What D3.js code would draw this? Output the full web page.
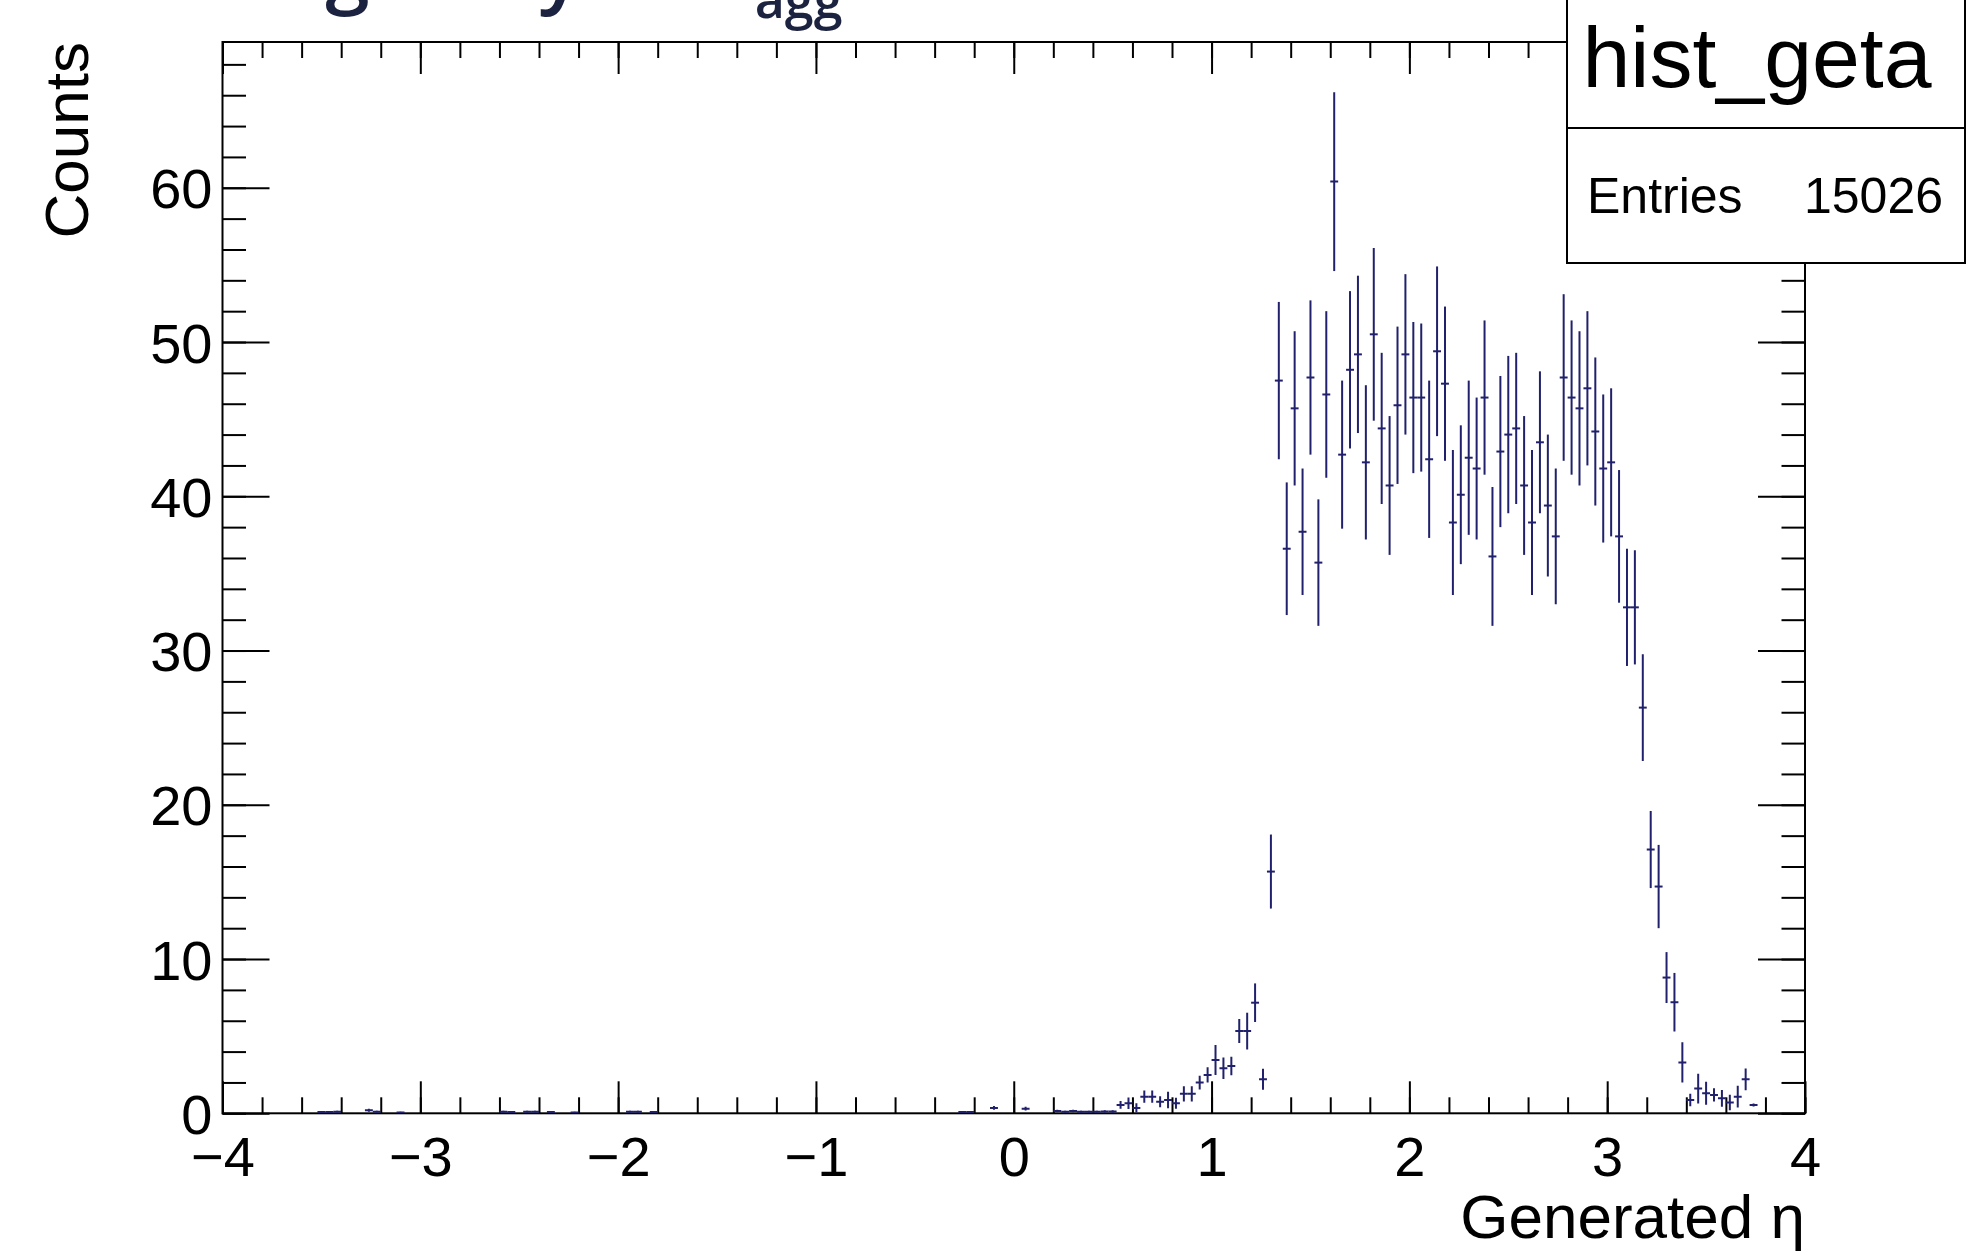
<!DOCTYPE html>
<html>
<head>
<meta charset="utf-8">
<script src="https://cdn.jsdelivr.net/npm/d3@7"></script>
<style>
  html, body { margin: 0; padding: 0; background: #ffffff; }
  svg { display: block; }
</style>
</head>
<body>
<svg id="chart" width="1976" height="1260"></svg>
<script>
// Bin centres (eta) of the non-empty bins; bin width 0.04 over [-4, 4]
const etaCenters = [
  -3.50, -3.46, -3.42, -3.26, -3.22, -3.10,
  -2.58, -2.54, -2.46, -2.42, -2.34, -2.22,
  -1.94, -1.90, -1.82,
  -0.26, -0.22, -0.10, 0.06,
  0.22, 0.26, 0.30, 0.34, 0.38, 0.42, 0.46, 0.50,
  0.54, 0.58, 0.62, 0.66, 0.70, 0.74, 0.78, 0.82, 0.86, 0.90, 0.94, 0.98,
  1.02, 1.06, 1.10, 1.14, 1.18, 1.22, 1.26, 1.30,
  1.34, 1.38, 1.42, 1.46, 1.50, 1.54, 1.58, 1.62, 1.66, 1.70,
  1.74, 1.78, 1.82, 1.86, 1.90, 1.94, 1.98, 2.02, 2.06, 2.10,
  2.14, 2.18, 2.22, 2.26, 2.30, 2.34, 2.38, 2.42, 2.46, 2.50,
  2.54, 2.58, 2.62, 2.66, 2.70, 2.74, 2.78, 2.82, 2.86, 2.90,
  2.94, 2.98, 3.02, 3.06, 3.10, 3.14, 3.18, 3.22, 3.26, 3.30,
  3.34, 3.38, 3.42, 3.46, 3.50, 3.54, 3.58, 3.62, 3.66, 3.70, 3.74
];

// Bin contents (weighted counts)
const counts = [
  0.08, 0.08, 0.10, 0.20, 0.10, 0.05,
  0.10, 0.08, 0.10, 0.10, 0.08, 0.05,
  0.10, 0.10, 0.08,
  0.08, 0.08, 0.35, 0.30,
  0.15, 0.10, 0.15, 0.10, 0.10, 0.10, 0.12, 0.12,
  0.54, 0.65, 0.35, 1.08, 1.08, 0.75, 0.86, 0.65, 1.26, 1.26, 1.99, 2.49,
  3.46, 2.92, 3.07, 5.33, 5.33, 7.17, 2.20, 15.67,
  47.5, 36.6, 45.7, 37.7, 47.7, 35.7, 46.6, 60.4, 42.7, 48.2,
  49.2, 42.2, 50.5, 44.4, 40.7, 45.9, 49.2, 46.4, 46.4, 42.4,
  49.4, 47.3, 38.3, 40.1, 42.5, 41.8, 46.4, 36.1, 42.9, 44.0,
  44.4, 40.7, 38.3, 43.5, 39.4, 37.4, 47.7, 46.4, 45.7, 47.0,
  44.2, 41.8, 42.2, 37.4, 32.8, 32.8, 26.3, 17.1, 14.7, 8.8,
  7.2, 3.3, 0.86, 1.6, 1.3, 1.19, 0.97, 0.70, 1.08, 2.2, 0.54
];

// Bin errors (sqrt of summed squared weights)
const errors = [
  0.06, 0.06, 0.07, 0.10, 0.07, 0.05,
  0.07, 0.06, 0.07, 0.07, 0.06, 0.05,
  0.07, 0.07, 0.06,
  0.06, 0.06, 0.12, 0.12,
  0.08, 0.07, 0.08, 0.07, 0.07, 0.07, 0.08, 0.08,
  0.25, 0.37, 0.30, 0.40, 0.40, 0.35, 0.54, 0.35, 0.50, 0.50, 0.45, 0.50,
  0.97, 0.70, 0.60, 0.78, 1.19, 1.25, 0.68, 2.40,
  5.1, 4.3, 5.0, 4.1, 5.0, 4.1, 5.4, 5.8, 4.8, 5.1,
  5.1, 5.0, 5.6, 4.9, 4.5, 5.1, 5.2, 4.9, 4.8, 5.1,
  5.5, 5.0, 4.7, 4.5, 5.0, 4.6, 5.0, 4.5, 4.9, 5.1,
  4.9, 4.5, 4.7, 4.6, 4.6, 4.4, 5.4, 5.0, 5.0, 5.0,
  4.8, 4.8, 4.8, 4.3, 3.8, 3.7, 3.46, 2.5, 2.7, 1.65,
  1.9, 1.3, 0.40, 0.97, 0.75, 0.43, 0.54, 0.50, 0.70, 0.70, 0.10
];

const binWidth = 0.04;
const xMajorTicks = [-4, -3, -2, -1, 0, 1, 2, 3, 4];
const yMajorTicks = [0, 10, 20, 30, 40, 50, 60];
const xTitle = "Generated η";
const yTitle = "Counts";
const statsName = "hist_geta";
const statsLabel = "Entries";
const statsEntries = 15026;
const pageTitle = "Eta range vs y of E";
const pageTitleSub = "agg";

const svg = d3.select("#chart");
const frame = { left: 222.5, right: 1805, top: 42, bottom: 1113.3 };
const yMax = 69.45;

const x = d3.scaleLinear().domain([-4, 4]).range([frame.left, frame.right]);
const y = d3.scaleLinear().domain([0, yMax]).range([frame.bottom, frame.top]);

const xMinor = d3.range(-20, 21).map(i => i / 5);
const yMinor = d3.range(0, 35).map(i => i * 2);

const axisFont = "'Liberation Sans', Arial, Helvetica, sans-serif";
const lineColor = "#20206c";

// slide title above the pad (runs off the top edge of the page)
const titleText = svg.append("text")
  .attr("x", 50)
  .attr("y", -2)
  .attr("font-family", "'Open Sans', 'Noto Sans', sans-serif")
  .attr("font-weight", 600)
  .attr("font-size", 80)
  .attr("fill", "#1c2340")
  .text(pageTitle);
titleText.append("tspan")
  .attr("dx", 9)
  .attr("dy", 20)
  .attr("font-size", 52)
  .text(pageTitleSub);

// frame
svg.append("rect")
  .attr("x", frame.left).attr("y", frame.top)
  .attr("width", frame.right - frame.left)
  .attr("height", frame.bottom - frame.top)
  .attr("fill", "none").attr("stroke", "#000").attr("stroke-width", 2);

function styleAxis(g) {
  g.select(".domain").remove();
  g.selectAll(".tick line").attr("stroke", "#000").attr("stroke-width", 2);
}

// bottom axis: minor ticks then major ticks with labels
svg.append("g")
  .attr("transform", `translate(0,${frame.bottom})`)
  .call(d3.axisBottom(x).tickValues(xMinor).tickSizeInner(-16).tickSizeOuter(0).tickFormat(""))
  .call(styleAxis);
const xAxisG = svg.append("g")
  .attr("transform", `translate(0,${frame.bottom})`)
  .call(d3.axisBottom(x).tickValues(xMajorTicks).tickSizeInner(-32).tickSizeOuter(0).tickFormat(d3.format("d")))
  .call(styleAxis);
xAxisG.selectAll(".tick text")
  .attr("y", 63).attr("dy", null)
  .attr("font-family", axisFont).attr("font-size", 56).attr("fill", "#000");

// top axis (ticks only)
svg.append("g")
  .attr("transform", `translate(0,${frame.top})`)
  .call(d3.axisTop(x).tickValues(xMinor).tickSizeInner(-16).tickSizeOuter(0).tickFormat(""))
  .call(styleAxis);
svg.append("g")
  .attr("transform", `translate(0,${frame.top})`)
  .call(d3.axisTop(x).tickValues(xMajorTicks).tickSizeInner(-32).tickSizeOuter(0).tickFormat(""))
  .call(styleAxis);

// left axis
svg.append("g")
  .attr("transform", `translate(${frame.left},0)`)
  .call(d3.axisLeft(y).tickValues(yMinor).tickSizeInner(-23.5).tickSizeOuter(0).tickFormat(""))
  .call(styleAxis);
const yAxisG = svg.append("g")
  .attr("transform", `translate(${frame.left},0)`)
  .call(d3.axisLeft(y).tickValues(yMajorTicks).tickSizeInner(-47).tickSizeOuter(0).tickFormat(d3.format("d")))
  .call(styleAxis);
yAxisG.selectAll(".tick text")
  .attr("x", -10).attr("dy", "0.36em")
  .attr("font-family", axisFont).attr("font-size", 56).attr("fill", "#000");

// right axis (ticks only)
svg.append("g")
  .attr("transform", `translate(${frame.right},0)`)
  .call(d3.axisRight(y).tickValues(yMinor).tickSizeInner(-23.5).tickSizeOuter(0).tickFormat(""))
  .call(styleAxis);
svg.append("g")
  .attr("transform", `translate(${frame.right},0)`)
  .call(d3.axisRight(y).tickValues(yMajorTicks).tickSizeInner(-47).tickSizeOuter(0).tickFormat(""))
  .call(styleAxis);

// axis titles
svg.append("text")
  .attr("x", frame.right).attr("y", 1238)
  .attr("text-anchor", "end")
  .attr("font-family", axisFont).attr("font-size", 62).attr("fill", "#000")
  .text(xTitle);
svg.append("text")
  .attr("transform", `translate(88,${frame.top}) rotate(-90)`)
  .attr("text-anchor", "end")
  .attr("font-family", axisFont).attr("font-size", 62).attr("fill", "#000")
  .text(yTitle);

// histogram error crosses
svg.append("clipPath").attr("id", "frameClip")
  .append("rect")
  .attr("x", frame.left).attr("y", frame.top)
  .attr("width", frame.right - frame.left)
  .attr("height", frame.bottom - frame.top);

const bins = etaCenters.map((c, i) => ({ c, v: counts[i], e: errors[i] }));
const marks = svg.append("g").attr("clip-path", "url(#frameClip)")
  .attr("stroke", lineColor).attr("stroke-width", 2).attr("fill", "none");

marks.selectAll("line.h").data(bins).join("line")
  .attr("class", "h")
  .attr("x1", d => x(d.c - binWidth / 2)).attr("x2", d => x(d.c + binWidth / 2))
  .attr("y1", d => y(d.v)).attr("y2", d => y(d.v));
marks.selectAll("line.v").data(bins).join("line")
  .attr("class", "v")
  .attr("x1", d => x(d.c)).attr("x2", d => x(d.c))
  .attr("y1", d => y(Math.max(0, d.v - d.e))).attr("y2", d => y(d.v + d.e));

// statistics box
const stats = svg.append("g");
stats.append("rect")
  .attr("x", 1567).attr("y", -20).attr("width", 398).attr("height", 283)
  .attr("fill", "#fff").attr("stroke", "#000").attr("stroke-width", 2);
stats.append("line")
  .attr("x1", 1567).attr("x2", 1965).attr("y1", 128).attr("y2", 128)
  .attr("stroke", "#000").attr("stroke-width", 2);
stats.append("text")
  .attr("x", 1757).attr("y", 87)
  .attr("text-anchor", "middle")
  .attr("font-family", axisFont).attr("font-size", 86).attr("fill", "#000")
  .text(statsName);
stats.append("text")
  .attr("x", 1587).attr("y", 213)
  .attr("font-family", axisFont).attr("font-size", 50).attr("fill", "#000")
  .text(statsLabel);
stats.append("text")
  .attr("x", 1943).attr("y", 213)
  .attr("text-anchor", "end")
  .attr("font-family", axisFont).attr("font-size", 50).attr("fill", "#000")
  .text(statsEntries);
</script>
</body>
</html>
